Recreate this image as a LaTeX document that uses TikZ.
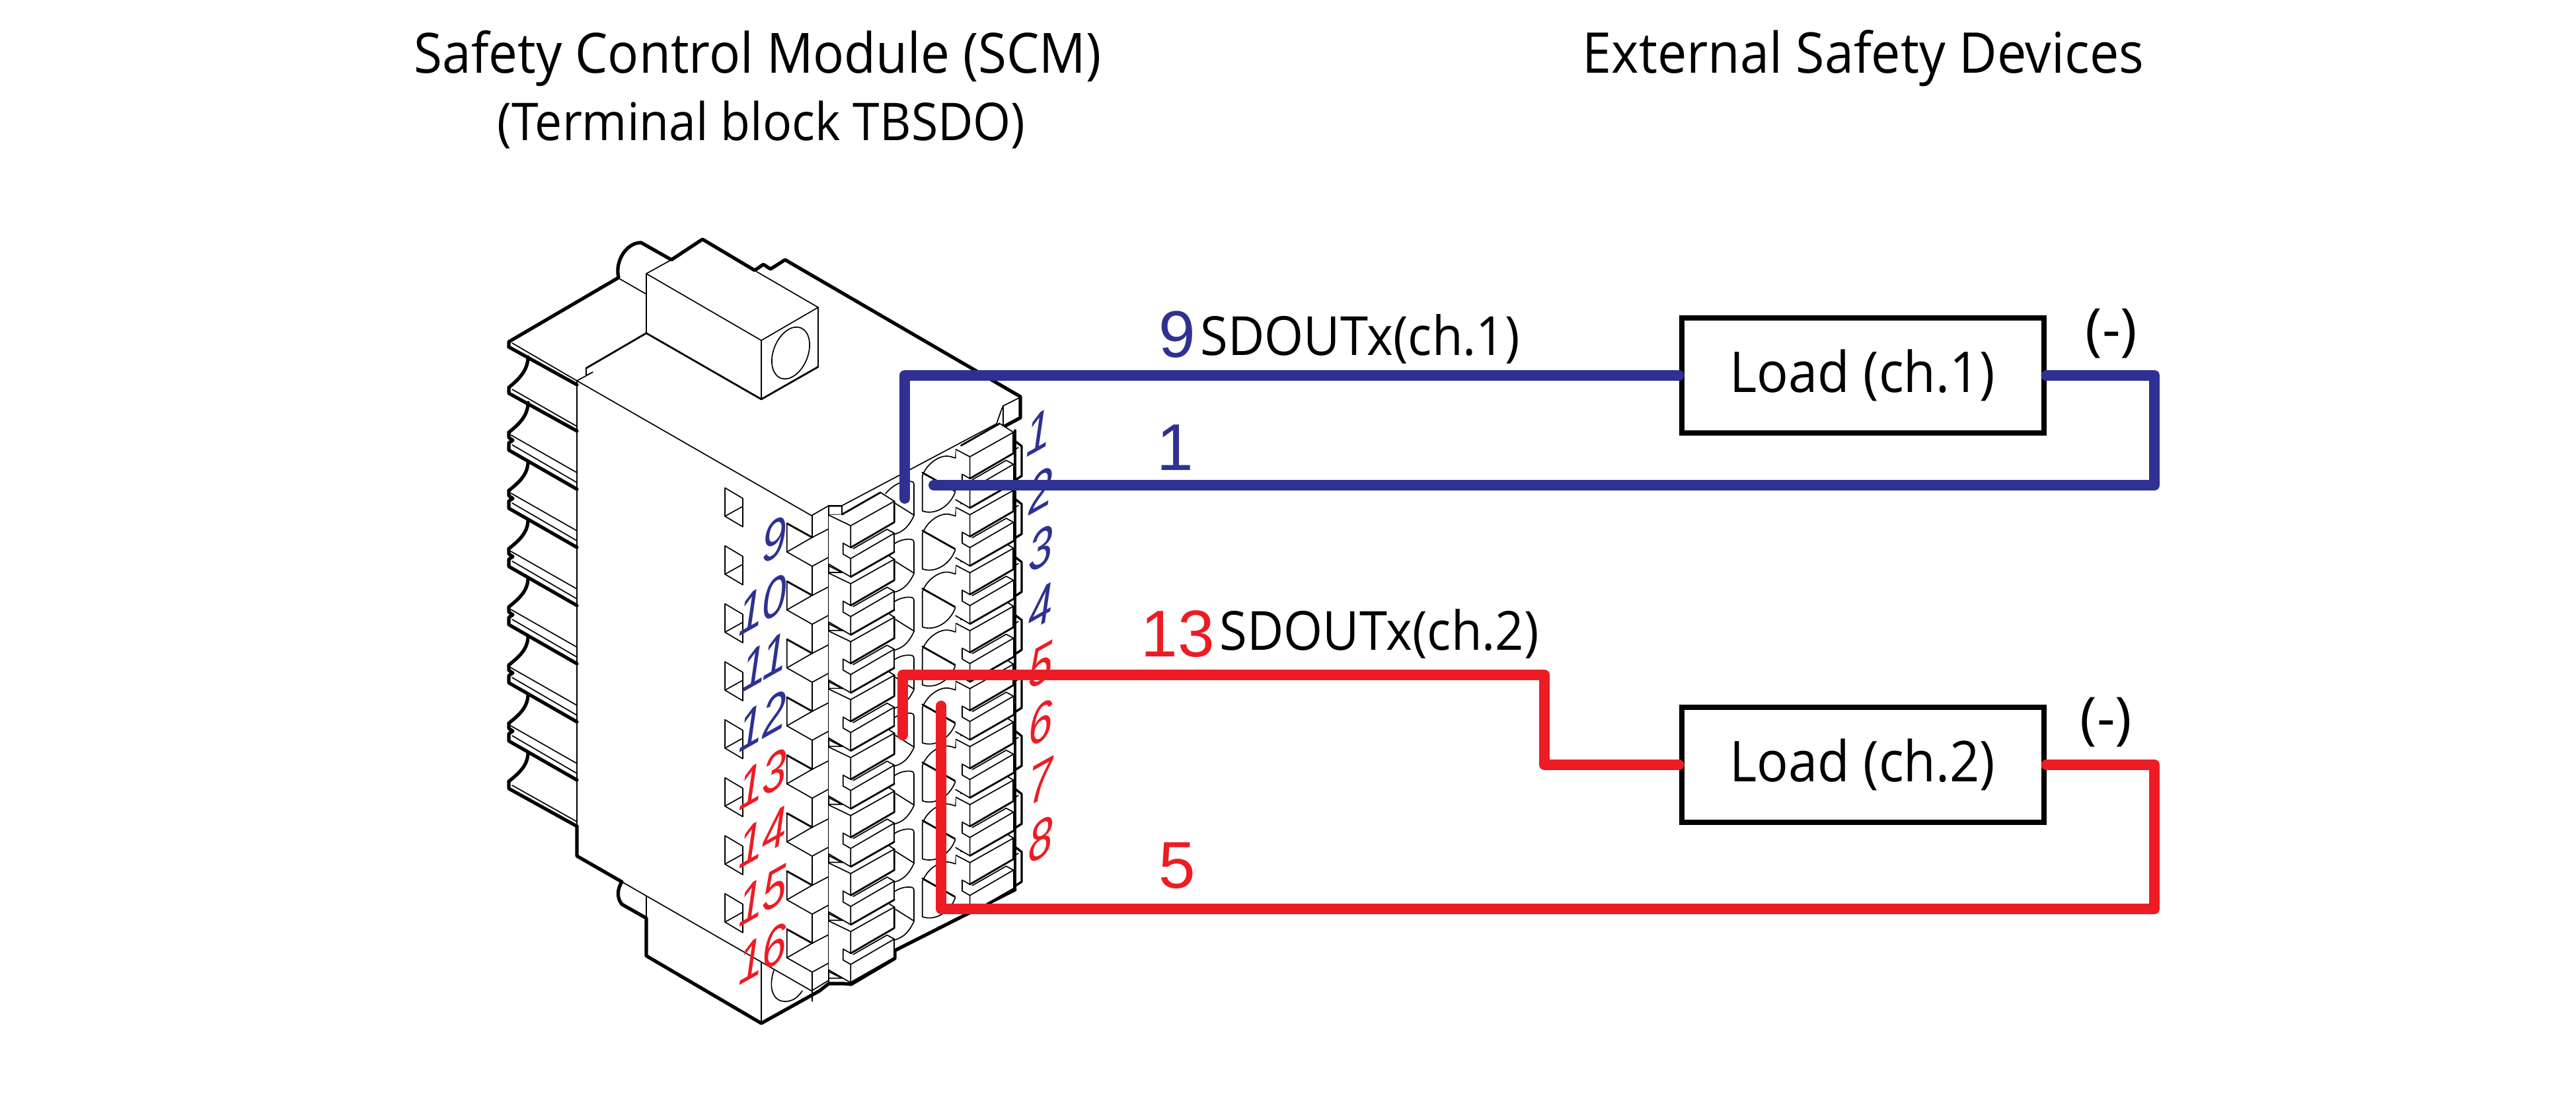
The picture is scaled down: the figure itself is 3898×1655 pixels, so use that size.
\documentclass[tikz,border=0pt]{standalone}
\usepackage{fontspec}
\setmainfont{Open Sans}
\newfontfamily\tfont[FakeStretch=0.93]{Open Sans}
\newfontfamily\numfont{Liberation Sans}
\definecolor{wblue}{HTML}{2E3192}
\definecolor{wred}{HTML}{ED1C24}
\tikzset{
  thinl/.style={line width=0.42pt,line join=round,line cap=round},
  medl/.style={line width=0.7pt,line join=round,line cap=round},
  walll/.style={line width=0.85pt,line join=round,line cap=round},
  thickl/.style={line width=1.3pt,line join=round,line cap=round},
  wire/.style={line width=4pt,line join=round,line cap=round},
  loadbox/.style={draw,line width=2pt,minimum width=137pt,minimum height=43.5pt,inner sep=0pt,font=\tfont\fontsize{21.3pt}{24pt}\selectfont},
  title/.style={anchor=base west,inner sep=0pt,font=\tfont\fontsize{21pt}{24pt}\selectfont},
  lab/.style={anchor=base west,inner sep=0pt,font=\tfont\fontsize{20.4pt}{23pt}\selectfont},
  minus/.style={anchor=center,inner sep=0pt,font=\fontsize{21.5pt}{25pt}\selectfont},
  bignum/.style={anchor=base west,inner sep=0pt,font=\numfont\fontsize{25pt}{30pt}\selectfont},
  isonum/.style={anchor=base east,inner sep=0pt,transform shape,font=\numfont\itshape\fontsize{20.5pt}{22pt}\selectfont}
}
\newcommand{\isolab}[5]{\begin{scope}[cm={0.8,0.448,0,1,(#4,#5+4)}]\node[isonum,text=#3] (#1) at (0,0) {#2};\end{scope}}
\newcommand{\termblock}[4]{%
  \fill[white] (#1,#2) -- (1274,778.3) -- (1332.3,745) -- (1353.3,758.3) -- (1353.3,835) -- (1287.3,872.7) -- (#3,#4) -- cycle;
  \draw[thinl] (#1,#2) -- (1287.3,795.3) -- (1353.3,758.3) -- (1332.3,745);
  \draw[medl] (1274,778.3) -- (1332.3,745);
  \draw[medl] (1353.3,758.3) -- (1353.3,790) -- (1287.3,828.3);
  \draw[thinl] (1287.3,795.3) -- (1287.3,828.3) -- (1275.7,821.7) -- (1275.7,838.3) -- (1287.3,845) -- (1353.3,806.7) -- (1342.3,800.7) -- (1291,830);
  \draw[thinl] (1353.3,806.7) -- (1353.3,835);
  \draw[thinl] (1287.3,845) -- (1287.3,872.7) -- (#3,#4);
  \draw[medl] (1353.3,835) -- (1287.3,872.7);
}
\begin{document}
\begin{tikzpicture}[x=0.25pt,y=-0.25pt]
\useasboundingbox (0,0) rectangle (3898,1655);
% ---------- outer outline
\draw[thickl] (770,525) -- (770,517) -- (936,420) .. controls (930,395) and (948,367) .. (970,367) -- (1016,393) -- (1063,362) -- (1142,409) -- (1155,400) -- (1166,407) -- (1188,393) -- (1544,600) -- (1544,632) -- (1518,646);
\draw[thickl] (873,1250) -- (873,1295) -- (941,1334) .. controls (934,1345) and (933,1358) .. (941,1368) -- (978,1389) -- (978,1446) -- (1152,1548) -- (1240,1499) -- (1254,1488) -- (1277,1488) -- (1288,1489) -- (1354,1450) -- (1354,1438) -- (1536,1346);
\draw[walll] (1536,1346) -- (1536,651);
% ribs
\draw[thinl] (873,576) -- (873,1250);
\draw[thickl] (770,525) -- (873,582);
\draw[thinl] (775,519) -- (873,576);
\draw[thickl] (799,540) .. controls (799,560) and (785,574) .. (770,586) -- (770,595) -- (873,652);
\draw[thinl] (775,589) -- (873,645);
\draw[thickl] (799,609) .. controls (799,629) and (785,642) .. (770,654);
\foreach \ry in {658,746,834,922,1010,1098}{
  \draw[thickl] (770,\ry-4) -- (770,\ry+4) -- (776,\ry+8) -- (770,\ry+12) -- (770,\ry+23) -- (873,\ry+82);
  \draw[thinl] (773,\ry) -- (873,\ry+57);
  \draw[thinl] (775,\ry+15) -- (873,\ry+72);
  \draw[thickl] (799,\ry+40) .. controls (799,\ry+60) and (785,\ry+72) .. (770,\ry+84);
}
\draw[thickl] (770,1182) -- (770,1193) -- (873,1250);
\draw[thinl] (775,1188) -- (873,1243);
% top face
\draw[thinl] (873,576) -- (1228,780) -- (1254,765) -- (1274,765) -- (1508,641) .. controls (1512,630) and (1514,622) .. (1518,614) -- (1544,601);
\draw[thinl] (1518,614) -- (1518,646);
\draw[medl] (978,504) -- (887,557);
\draw[thinl] (887,557) -- (887,568) -- (897,563) -- (873,576);
% lever box
\draw[thinl] (938,422) -- (978,445);
\draw[thinl] (978,414) -- (1016,393);
\draw[thinl] (1145,411) -- (1238,465) -- (1152,515) -- (978,414) -- (978,504);
\draw[medl] (978,504) -- (1152,604);
\draw[thinl] (1152,515) -- (1152,604);
\draw[medl] (1152,604) -- (1238,555);
\draw[thinl] (1238,465) -- (1238,555);
\draw[thinl,rotate around={-22:(1196.5,534)}] (1196.5,534) ellipse [x radius=26,y radius=41];
% bottom detail
\draw[thinl] (941,1334) -- (1228,1499) -- (1254,1483);
\draw[thinl] (978,1356) -- (978,1389);
\draw[thinl] (1152,1456) -- (1152,1548);
\draw[thinl] (1171,1468) .. controls (1162,1495) and (1170,1515) .. (1188,1515) .. controls (1200,1515) and (1208,1508) .. (1214,1499);
% windows and fins of the left face
\foreach \k in {0,...,7}{
  \begin{scope}[shift={(0,87.7*\k)}]
    \draw[thinl] (1097,738) -- (1124,754) -- (1124,797) -- (1097,781) -- cycle;
    \draw[thinl] (1097,781) -- (1124,766);
    \draw[medl] (1190.7,791.7) -- (1229,813);
    \draw[thinl] (1190.7,791.7) -- (1190.7,835) -- (1229,813) -- (1254,800);
    \draw[thinl] (1190.7,835) -- (1229,856.7) -- (1254,843);
    \draw[thinl] (1229,856.7) -- (1229,900.7);
  \end{scope}
}
\draw[thinl] (1229,780) -- (1229,813);
% holes
\foreach \k in {0,...,7}{
  \begin{scope}[shift={(0,87.7*\k)}]
    \draw[thinl] (1340,746.7) .. controls (1350,735) and (1362,728) .. (1375,728) .. controls (1380,728) and (1383,729) .. (1383,733) -- (1383,780) .. controls (1376,795) and (1368,804) .. (1354,808);
    \draw[thinl] (1355,761.7) -- (1383,779.3);
    \draw[thinl] (1395.7,720) .. controls (1402,702) and (1420,690) .. (1432,690) .. controls (1438,690) and (1442,692) .. (1446,693) -- (1446.7,680);
    \draw[thinl] (1395.7,720) -- (1395.7,773) .. controls (1415,780) and (1438,766) .. (1446,743);
    \draw[medl] (1395.7,715) -- (1446,743.3);
  \end{scope}
}
% right bumps
\foreach \k in {0,...,7}{
  \begin{scope}[shift={(0,87.7*\k)}]
    \draw[walll] (1537,668) -- (1546,675) -- (1546,720) -- (1535,727);
    \draw[thinl] (1536,680) -- (1541,677);
  \end{scope}
}
% terminals, lower ones first
\draw[medl] (1254,765) -- (1254,1488);
\draw[thinl] (1254,765.7) -- (1274,765.7) -- (1274,778.3) -- (1254,779.3);
\foreach \k in {7,...,0}{
  \begin{scope}[shift={(180.3,-104.3+87.7*\k)}]
    \termblock{1266.4}{784.3}{1265.7}{860.3}
  \end{scope}
}
\foreach \k in {7,...,0}{
  \begin{scope}[shift={(0,87.7*\k)}]
    \termblock{1254}{779.3}{1254}{853.3}
    \draw[thinl] (1254,856) -- (1274,866) -- (1254,866);
  \end{scope}
}
% numbers on the block
\isolab{n1}{1}{wblue}{1590}{668}
\isolab{n2}{2}{wblue}{1594}{756}
\isolab{n3}{3}{wblue}{1594}{844}
\isolab{n4}{4}{wblue}{1594}{932}
\isolab{n5}{5}{wred}{1594}{1020}
\isolab{n6}{6}{wred}{1594}{1108}
\isolab{n7}{7}{wred}{1594}{1196}
\isolab{n8}{8}{wred}{1594}{1284}
\isolab{n9}{9}{wblue}{1191}{830}
\isolab{n10}{10}{wblue}{1191}{918}
\isolab{n11}{11}{wblue}{1191}{1006}
\isolab{n12}{12}{wblue}{1191}{1094}
\isolab{n13}{13}{wred}{1191}{1182}
\isolab{n14}{14}{wred}{1191}{1270}
\isolab{n15}{15}{wred}{1191}{1358}
\isolab{n16}{16}{wred}{1191}{1446}
% load boxes
\node[loadbox] (load1) at (2818.5,568) {\raisebox{-1.5pt}{Load (ch.1)}};
\node[loadbox] (load2) at (2818.5,1157) {\raisebox{-1.5pt}{Load (ch.2)}};
% wire free ends
\coordinate (a1) at (1369,754);
\coordinate (b1) at (1413,734);
\coordinate (a2) at (1366,1112);
\coordinate (b2) at (1424,1068);
% wires
\draw[wire,wblue] (a1) |- (load1.west);
\draw[wire,wblue] (b1) -- (3260,734) |- (load1.east);
\draw[wire,wred] (a2) |- (2337,1021) |- (load2.west);
\draw[wire,wred] (b2) |- (3260,1375) |- (load2.east);
% texts
\node[title] (t1) at (626,111) {Safety Control Module (SCM)};
\node[title,font=\tfont\fontsize{19.7pt}{24pt}\selectfont] (t2) at (752,213) {(Terminal block TBSDO)};
\node[title,font=\tfont\fontsize{21.25pt}{24pt}\selectfont] (t3) at (2394,111) {External Safety Devices};
\node[bignum,text=wblue] (w9) at (1753,541) {9};
\node[lab] (s1) at (1816,538) {SDOUTx(ch.1)};
\node[bignum,text=wblue] (w1) at (1750,712) {1};
\node[bignum,text=wred] (w13) at (1726,994) {13};
\node[lab] (s2) at (1845,984) {SDOUTx(ch.2)};
\node[bignum,text=wred] (w5) at (1753,1343) {5};
\node[minus] (m1) at (3195,505) {(-)};
\node[minus] (m2) at (3187,1093) {(-)};
\end{tikzpicture}
\end{document}
